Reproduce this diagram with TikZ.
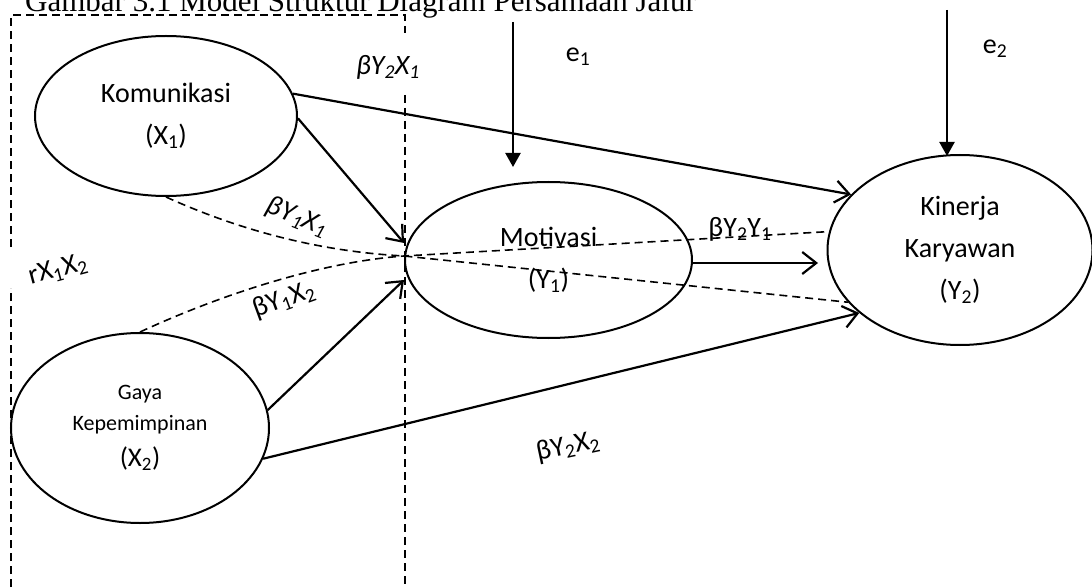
\documentclass[tikz,border=0pt]{standalone}
\usepackage{fontspec}
\setmainfont{Carlito}
\newfontfamily\titlefont{Liberation Serif}
\usetikzlibrary{arrows.meta,shapes.geometric}
\newcommand\sbs[1]{\textsubscript{#1}}
\begin{document}
\begin{tikzpicture}[x=1pt,y=-1pt,
  var/.style={draw, ellipse, line width=2pt, inner sep=0pt, align=center,
    font=\fontsize{28}{42}\selectfont},
  arr/.style={line width=2.2pt, -{Straight Barb[length=14pt,width=22pt,line width=2.2pt]}},
  earr/.style={line width=2.2pt, -{Triangle[length=14pt,width=15pt]}},
  dline/.style={line width=1.6pt, dash pattern=on 8pt off 5pt},
  frame/.style={line width=1.6pt, dash pattern=on 8pt off 5pt},
  lbl/.style={inner sep=0pt, font=\fontsize{28}{30}\selectfont},
  ilbl/.style={inner sep=0pt, font=\fontsize{28}{30}\selectfont\itshape}
]
\useasboundingbox (0,0) rectangle (1092,588);
\clip (0,0) rectangle (1092,588);

% title
\node[anchor=base west, inner sep=0pt, font=\titlefont\fontsize{31}{31}\selectfont] (title) at (25,12)
  {Gambar 3.1 Model Struktur Diagram Persamaan Jalur};

% dashed frame
\coordinate (f1) at (11,15);
\coordinate (f2) at (405,15);
\draw[frame] (11,600) -- (11,288);
\draw[frame] (11,247) -- (f1) -- (f2) -- (405,33);
\draw[frame] (405,95) -- (405,600);

% variables
\node[var, minimum width=262pt, minimum height=160pt] (kom) at (166,116) {Komunikasi\\(X\sbs{1})};
\node[var, minimum width=258pt, minimum height=190pt, font=\fontsize{22}{31}\selectfont] (gaya) at (140,428)
  {Gaya\\Kepemimpinan\\[5pt]\fontsize{27}{31}\selectfont (X\sbs{2})};
\node[var, minimum width=287pt, minimum height=156pt] (mot) at (548.5,260) {Motivasi\\(Y\sbs{1})};
\node[var, minimum width=265pt, minimum height=190pt] (kin) at (960,250) {Kinerja\\Karyawan\\(Y\sbs{2})};

% helper coordinates
\coordinate (mt1) at ([yshift=17pt]mot.west);
\coordinate (mt2) at ([yshift=-20pt]mot.west);
\coordinate (mx) at ([yshift=4pt]mot.west);
\coordinate (kt) at (818,263);
\coordinate (e1s) at (513,22);
\coordinate (e1t) at (513,167);
\coordinate (e2s) at (947,10);
\coordinate (e2t) at (947,156);

% dashed correlation paths
\draw[dline] (kom.south) .. controls (250,235) and (330,252) .. (mx) -- (kin.205);
\draw[dline] (gaya.north) .. controls (220,295) and (320,262) .. (mx) -- (kin.172);

% solid arrows
\draw[arr] (kom.10) -- (kin.153);
\draw[arr] (kom.-1) -- (mt1);
\draw[arr] (gaya.8) -- (mt2);
\draw[arr] (gaya.-14) -- (kin.212);
\draw[arr] (mot.east |- kt) -- (kt);
\draw[earr] (e1s) -- (e1t);
\draw[earr] (e2s) -- (e2t);

% labels
\node[ilbl] (l1) at (388,67) {βY\sbs{2}X\sbs{1}};
\node[ilbl, rotate=-22] (l2) at (297,217) {βY\sbs{1}X\sbs{1}};
\node[lbl, rotate=15] (l3) at (58,270) {rX\sbs{1}X\sbs{2}};
\node[lbl, rotate=20] (l4) at (284,300) {βY\sbs{1}X\sbs{2}};
\node[lbl] (l5) at (740,229) {βY\sbs{2}Y\sbs{1}};
\node[lbl, rotate=12] (l6) at (568,447) {βY\sbs{2}X\sbs{2}};
\node[lbl] (le1) at (578,57) {e\sbs{1}};
\node[lbl] (le2) at (995,49) {e\sbs{2}};
\end{tikzpicture}
\end{document}
